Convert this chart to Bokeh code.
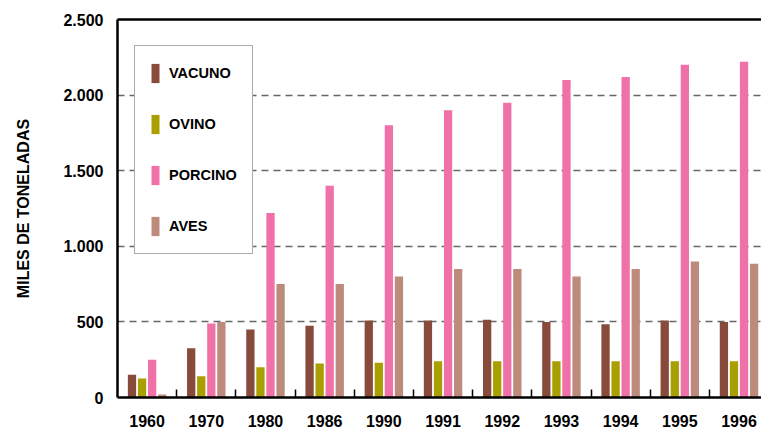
from bokeh.plotting import figure
from bokeh.models import (ColumnDataSource, Range1d, FixedTicker, LinearAxis,
                          Legend, LegendItem)
from bokeh.transform import dodge
from bokeh.embed import file_html
from bokeh.resources import INLINE

years = ["1960", "1970", "1980", "1986", "1990", "1991", "1992", "1993", "1994", "1995", "1996"]
vacuno = [150, 325, 450, 475, 510, 510, 515, 500, 485, 510, 500]
ovino = [125, 140, 200, 225, 230, 240, 240, 240, 240, 240, 240]
porcino = [250, 490, 1220, 1400, 1800, 1900, 1950, 2100, 2120, 2200, 2220]
aves = [20, 500, 750, 750, 800, 850, 850, 800, 850, 900, 885]
series_names = ["VACUNO", "OVINO", "PORCINO", "AVES"]
colors = ["#884A3A", "#AA9F00", "#F070A8", "#BD8B7B"]
y_ticks = [0, 500, 1000, 1500, 2000, 2500]
y_tick_labels = ["0", "500", "1.000", "1.500", "2.000", "2.500"]

FONT = "Liberation Sans"
n = len(years)
centers = [i + 0.5 for i in range(n)]
bounds = [float(i) for i in range(1, n)]

src = ColumnDataSource(dict(x=centers, VACUNO=vacuno, OVINO=ovino, PORCINO=porcino, AVES=aves))

p = figure(width=761, height=430, output_backend="svg", toolbar_location=None,
           x_range=Range1d(0, 10.88), y_range=Range1d(0, 2500),
           min_border_left=117, min_border_right=0, min_border_top=19, min_border_bottom=33)
p.outline_line_color = None
p.background_fill_color = "white"
p.border_fill_color = "white"

offsets = [-0.255, -0.085, 0.085, 0.255]
renderers = []
for name, col, off in zip(series_names, colors, offsets):
    r = p.vbar(x=dodge("x", off, range=p.x_range), top=name, width=0.14, bottom=0,
               source=src, fill_color=col, line_color=None)
    renderers.append(r)

# x axis
xa = p.xaxis[0]
xa.ticker = FixedTicker(ticks=centers, minor_ticks=bounds)
xa.major_label_overrides = {c: y for c, y in zip(centers, years)}
xa.major_tick_in = 0
xa.major_tick_out = 0
xa.minor_tick_in = 8
xa.minor_tick_out = 0
xa.minor_tick_line_color = "black"
xa.minor_tick_line_width = 1.5
xa.axis_line_width = 2.5
xa.axis_line_color = "black"
xa.major_label_text_font = FONT
xa.major_label_text_font_style = "bold"
xa.major_label_text_font_size = "16px"
xa.major_label_text_color = "black"
xa.major_label_standoff = 17

# y axis
ya = p.yaxis[0]
ya.ticker = FixedTicker(ticks=y_ticks)
ya.major_label_overrides = {t: l for t, l in zip(y_ticks, y_tick_labels)}
ya.major_tick_in = 0
ya.major_tick_out = 0
ya.minor_tick_line_color = None
ya.axis_line_width = 2.5
ya.axis_line_color = "black"
ya.major_label_text_font = FONT
ya.major_label_text_font_style = "bold"
ya.major_label_text_font_size = "16px"
ya.major_label_text_color = "black"
ya.major_label_standoff = 14
ya.axis_label = "MILES DE TONELADAS"
ya.axis_label_text_font = FONT
ya.axis_label_text_font_style = "bold"
ya.axis_label_text_font_size = "16px"
ya.axis_label_text_color = "black"
ya.axis_label_standoff = 28

# top border line
top = LinearAxis(ticker=FixedTicker(ticks=[]), major_tick_in=0, major_tick_out=0,
                 minor_tick_in=0, minor_tick_out=0, major_label_text_font_size="0px",
                 major_label_standoff=0, axis_line_width=2.5, axis_line_color="black")
p.add_layout(top, "above")

p.xgrid.grid_line_color = None
p.ygrid.ticker = FixedTicker(ticks=y_ticks[1:-1])
p.ygrid.grid_line_color = "#666666"
p.ygrid.grid_line_dash = "7 5"
p.ygrid.grid_line_width = 1.5

legend = Legend(items=[LegendItem(label=nm, renderers=[r]) for nm, r in zip(series_names, renderers)],
                location=(17, 143), orientation="vertical",
                glyph_width=10, glyph_height=24, spacing=27, padding=15, margin=0,
                label_standoff=9, label_width=66,
                label_text_font=FONT, label_text_font_style="bold", label_text_font_size="14.5px",
                label_text_color="black",
                border_line_color="#555555", border_line_width=1.5,
                background_fill_color="white", background_fill_alpha=1.0)
p.add_layout(legend, "center")

open("out.html", "w").write(file_html(p, INLINE))
